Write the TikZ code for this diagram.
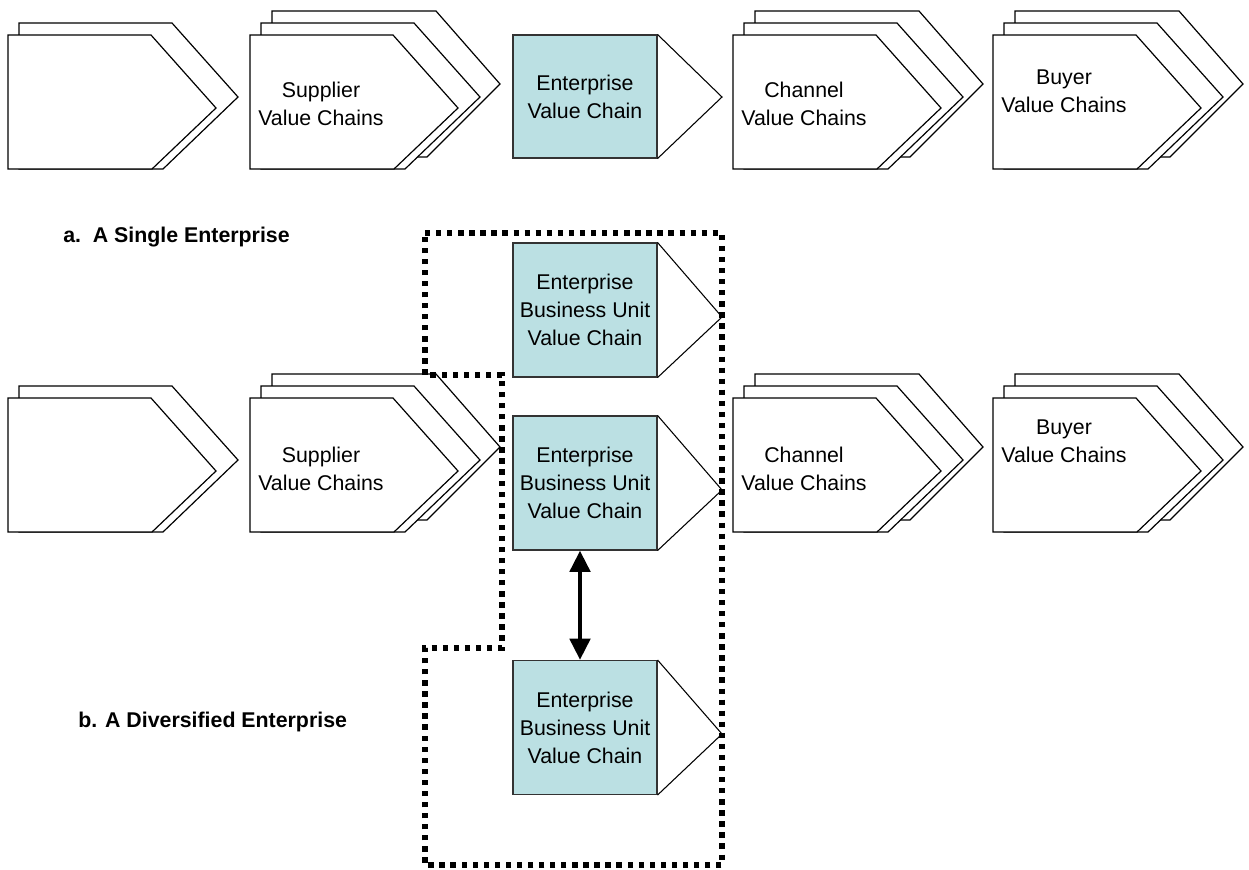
\documentclass[tikz,border=0pt]{standalone}
\usepackage{fontspec}
\setmainfont{Liberation Sans}
\usetikzlibrary{arrows.meta}
\definecolor{unitfill}{RGB}{187,224,227}

% one layer of a stacked value-chain chevron (x = left edge, y = top of the front layer)
\newcommand{\layerback}[2]{\filldraw[chev] ({#1+22},{#2-24}) -- ({#1+186},{#2-24}) -- ({#1+250},{#2+49}) -- ({#1+177},{#2+122}) -- ({#1+22},{#2+122}) -- cycle;}
\newcommand{\layermid}[2]{\filldraw[chev] ({#1+11},{#2-12}) -- ({#1+164},{#2-12}) -- ({#1+230},{#2+62}) -- ({#1+155},{#2+134}) -- ({#1+11},{#2+134}) -- cycle;}
\newcommand{\layerfront}[2]{\filldraw[chev] (#1,#2) -- ({#1+143},#2) -- ({#1+208},{#2+73}) -- ({#1+144},{#2+134}) -- (#1,{#2+134}) -- cycle;}
\newcommand{\stacktwo}[2]{\layermid{#1}{#2}\layerfront{#1}{#2}}
\newcommand{\stackthree}[2]{\layerback{#1}{#2}\layermid{#1}{#2}\layerfront{#1}{#2}}

\begin{document}
\begin{tikzpicture}[x=0.75pt,y=-0.75pt,
  chev/.style={draw=black,fill=white,line width=0.9pt,line join=miter},
  lbl/.style={align=center,font=\fontsize{16}{21}\selectfont,inner sep=0pt},
  unit/.style={draw=black!80,fill=unitfill,line width=0.8pt,minimum width=108pt,
    align=center,font=\fontsize{16}{21}\selectfont,inner sep=0pt},
  tipline/.style={draw=black,line width=0.8pt},
  caption/.style={anchor=west,font=\fontsize{16}{20}\selectfont\bfseries,inner sep=0pt},
  boundary/.style={draw=black,line width=4pt,dash pattern=on 4pt off 4.3pt},
  link/.style={line width=3.6pt,{Triangle[width=15pt,length=16pt]}-{Triangle[width=15pt,length=16pt]}}]
\useasboundingbox (0,0) rectangle (1249,869);

% ---- a. single enterprise ----
\stacktwo{8}{35}
\stackthree{250}{35}
\node[lbl] (supa) at (321,104) {Supplier\\Value Chains};
\node[unit,minimum height=92.25pt] (enta) at (585,96.5) {Enterprise\\Value Chain};
\draw[tipline] (enta.north east) -- (722,97) -- (enta.south east);
\stackthree{733}{35}
\node[lbl] (chaa) at (804,104) {Channel\\Value Chains};
\stackthree{993}{35}
\node[lbl] (buya) at (1064,91) {Buyer\\Value Chains};
\node[caption] (capa) at (63,237) {a.\ \ A Single Enterprise};

% ---- b. diversified enterprise ----
\stacktwo{8}{398}
\stackthree{250}{398}
\node[lbl] (supb) at (321,469) {Supplier\\Value Chains};
\stackthree{733}{398}
\node[lbl] (chab) at (804,469) {Channel\\Value Chains};
\stackthree{993}{398}
\node[lbl] (buyb) at (1064,441) {Buyer\\Value Chains};

\node[unit,minimum height=100.5pt] (bu1) at (585,310) {Enterprise\\Business Unit\\Value Chain};
\draw[tipline] (bu1.north east) -- (722,317) -- (bu1.south east);
\node[unit,minimum height=100.5pt] (bu2) at (585,483) {Enterprise\\Business Unit\\Value Chain};
\draw[tipline] (bu2.north east) -- (722,490) -- (bu2.south east);
\node[unit,minimum height=100.5pt] (bu3) at (585,727.5) {Enterprise\\Business Unit\\Value Chain};
\draw[tipline] (bu3.north east) -- (722,734) -- (bu3.south east);

\draw[link] ([xshift=-3.75pt]bu2.south) -- ([xshift=-3.75pt]bu3.north);

% enterprise boundary
\draw[boundary] (425,233) -- (722,233) -- (722,865) -- (425,865) -- (425,648)
  -- (502,648) -- (502,375) -- (425,375) -- cycle;

\node[caption] (capb) at (78,722) {b. A Diversified Enterprise};
\end{tikzpicture}
\end{document}
